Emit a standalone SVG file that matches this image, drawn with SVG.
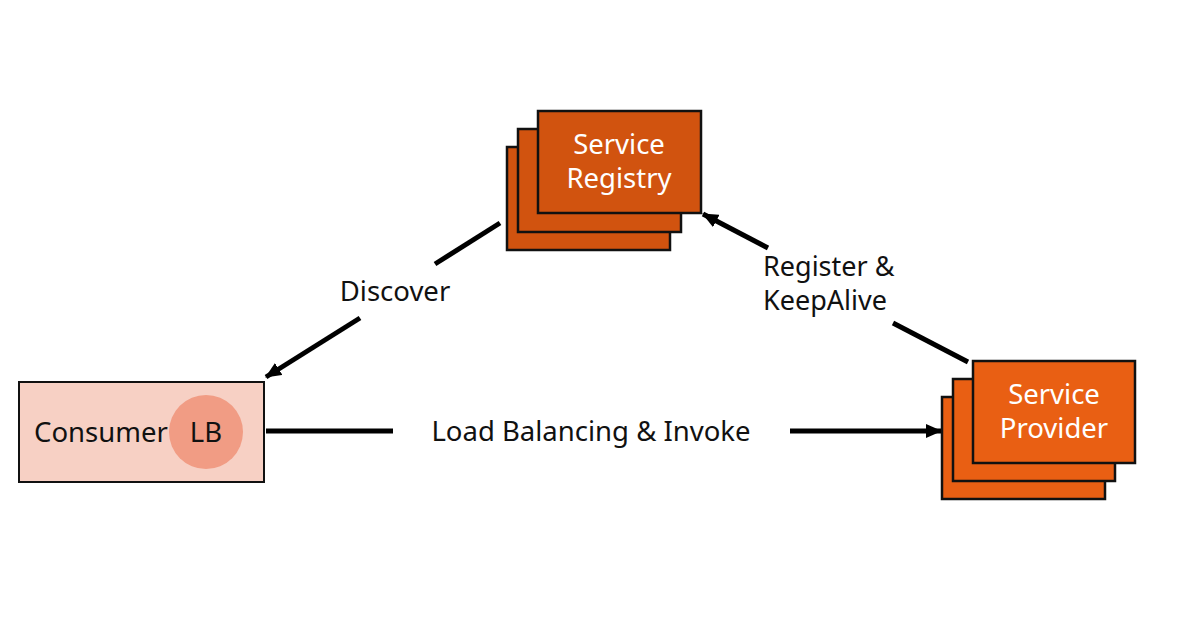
<svg xmlns="http://www.w3.org/2000/svg" width="1191" height="629" viewBox="0 0 1191 629">
<style>
text{font-family:"Noto Sans","Open Sans",sans-serif;font-size:27.5px}
.w{fill:#ffffff;text-anchor:middle}
.k{fill:#111111}
.reg{fill:#D1530F;stroke:#111;stroke-width:2.5}
.prov{fill:#E95F13;stroke:#111;stroke-width:2.5}
.edge{stroke:#000;stroke-width:5;fill:none}
</style>
<defs>
<marker id="ah" viewBox="0 0 16 14" refX="15" refY="7" markerWidth="16" markerHeight="14" markerUnits="userSpaceOnUse" orient="auto">
<path d="M0,0 L16,7 L0,14 Z" fill="#000"/>
</marker>
</defs>
<rect width="1191" height="629" fill="#fff"/>
<g id="connectors">
<line class="edge" x1="500" y1="223" x2="435" y2="264"/>
<line class="edge" x1="360" y1="318" x2="266" y2="377" marker-end="url(#ah)"/>
<line class="edge" x1="968" y1="362" x2="893" y2="323"/>
<line class="edge" x1="768" y1="248" x2="703" y2="214" marker-end="url(#ah)"/>
<line class="edge" x1="266" y1="431" x2="393" y2="431"/>
<line class="edge" x1="790" y1="431" x2="941" y2="431" marker-end="url(#ah)"/>
<text class="k" x="395" y="301" text-anchor="middle">Discover</text>
<text class="k" x="763" y="276" style="font-size:27px">Register &amp;<tspan x="763" dy="34">KeepAlive</tspan></text>
<text class="k" x="591" y="441" text-anchor="middle">Load Balancing &amp; Invoke</text>
</g>
<g id="registry">
<rect class="reg" x="507" y="147" width="163" height="103"/>
<rect class="reg" x="518" y="129" width="163" height="103"/>
<rect class="reg" x="538" y="111" width="163" height="102"/>
<text class="w" x="619" y="154">Service<tspan x="619" dy="34">Registry</tspan></text>
</g>
<g id="provider">
<rect class="prov" x="942" y="397" width="163" height="102"/>
<rect class="prov" x="953" y="379" width="162" height="102"/>
<rect class="prov" x="973" y="361" width="162" height="102"/>
<text class="w" x="1054" y="404">Service<tspan x="1054" dy="34">Provider</tspan></text>
</g>
<g id="consumer">
<rect x="19" y="382" width="245" height="100" fill="#F7D0C4" stroke="#111" stroke-width="2"/>
<circle cx="206" cy="432" r="37" fill="#F19C84"/>
<text class="k" x="34" y="442">Consumer</text>
<text class="k" x="206" y="442" text-anchor="middle">LB</text>
</g>
</svg>
